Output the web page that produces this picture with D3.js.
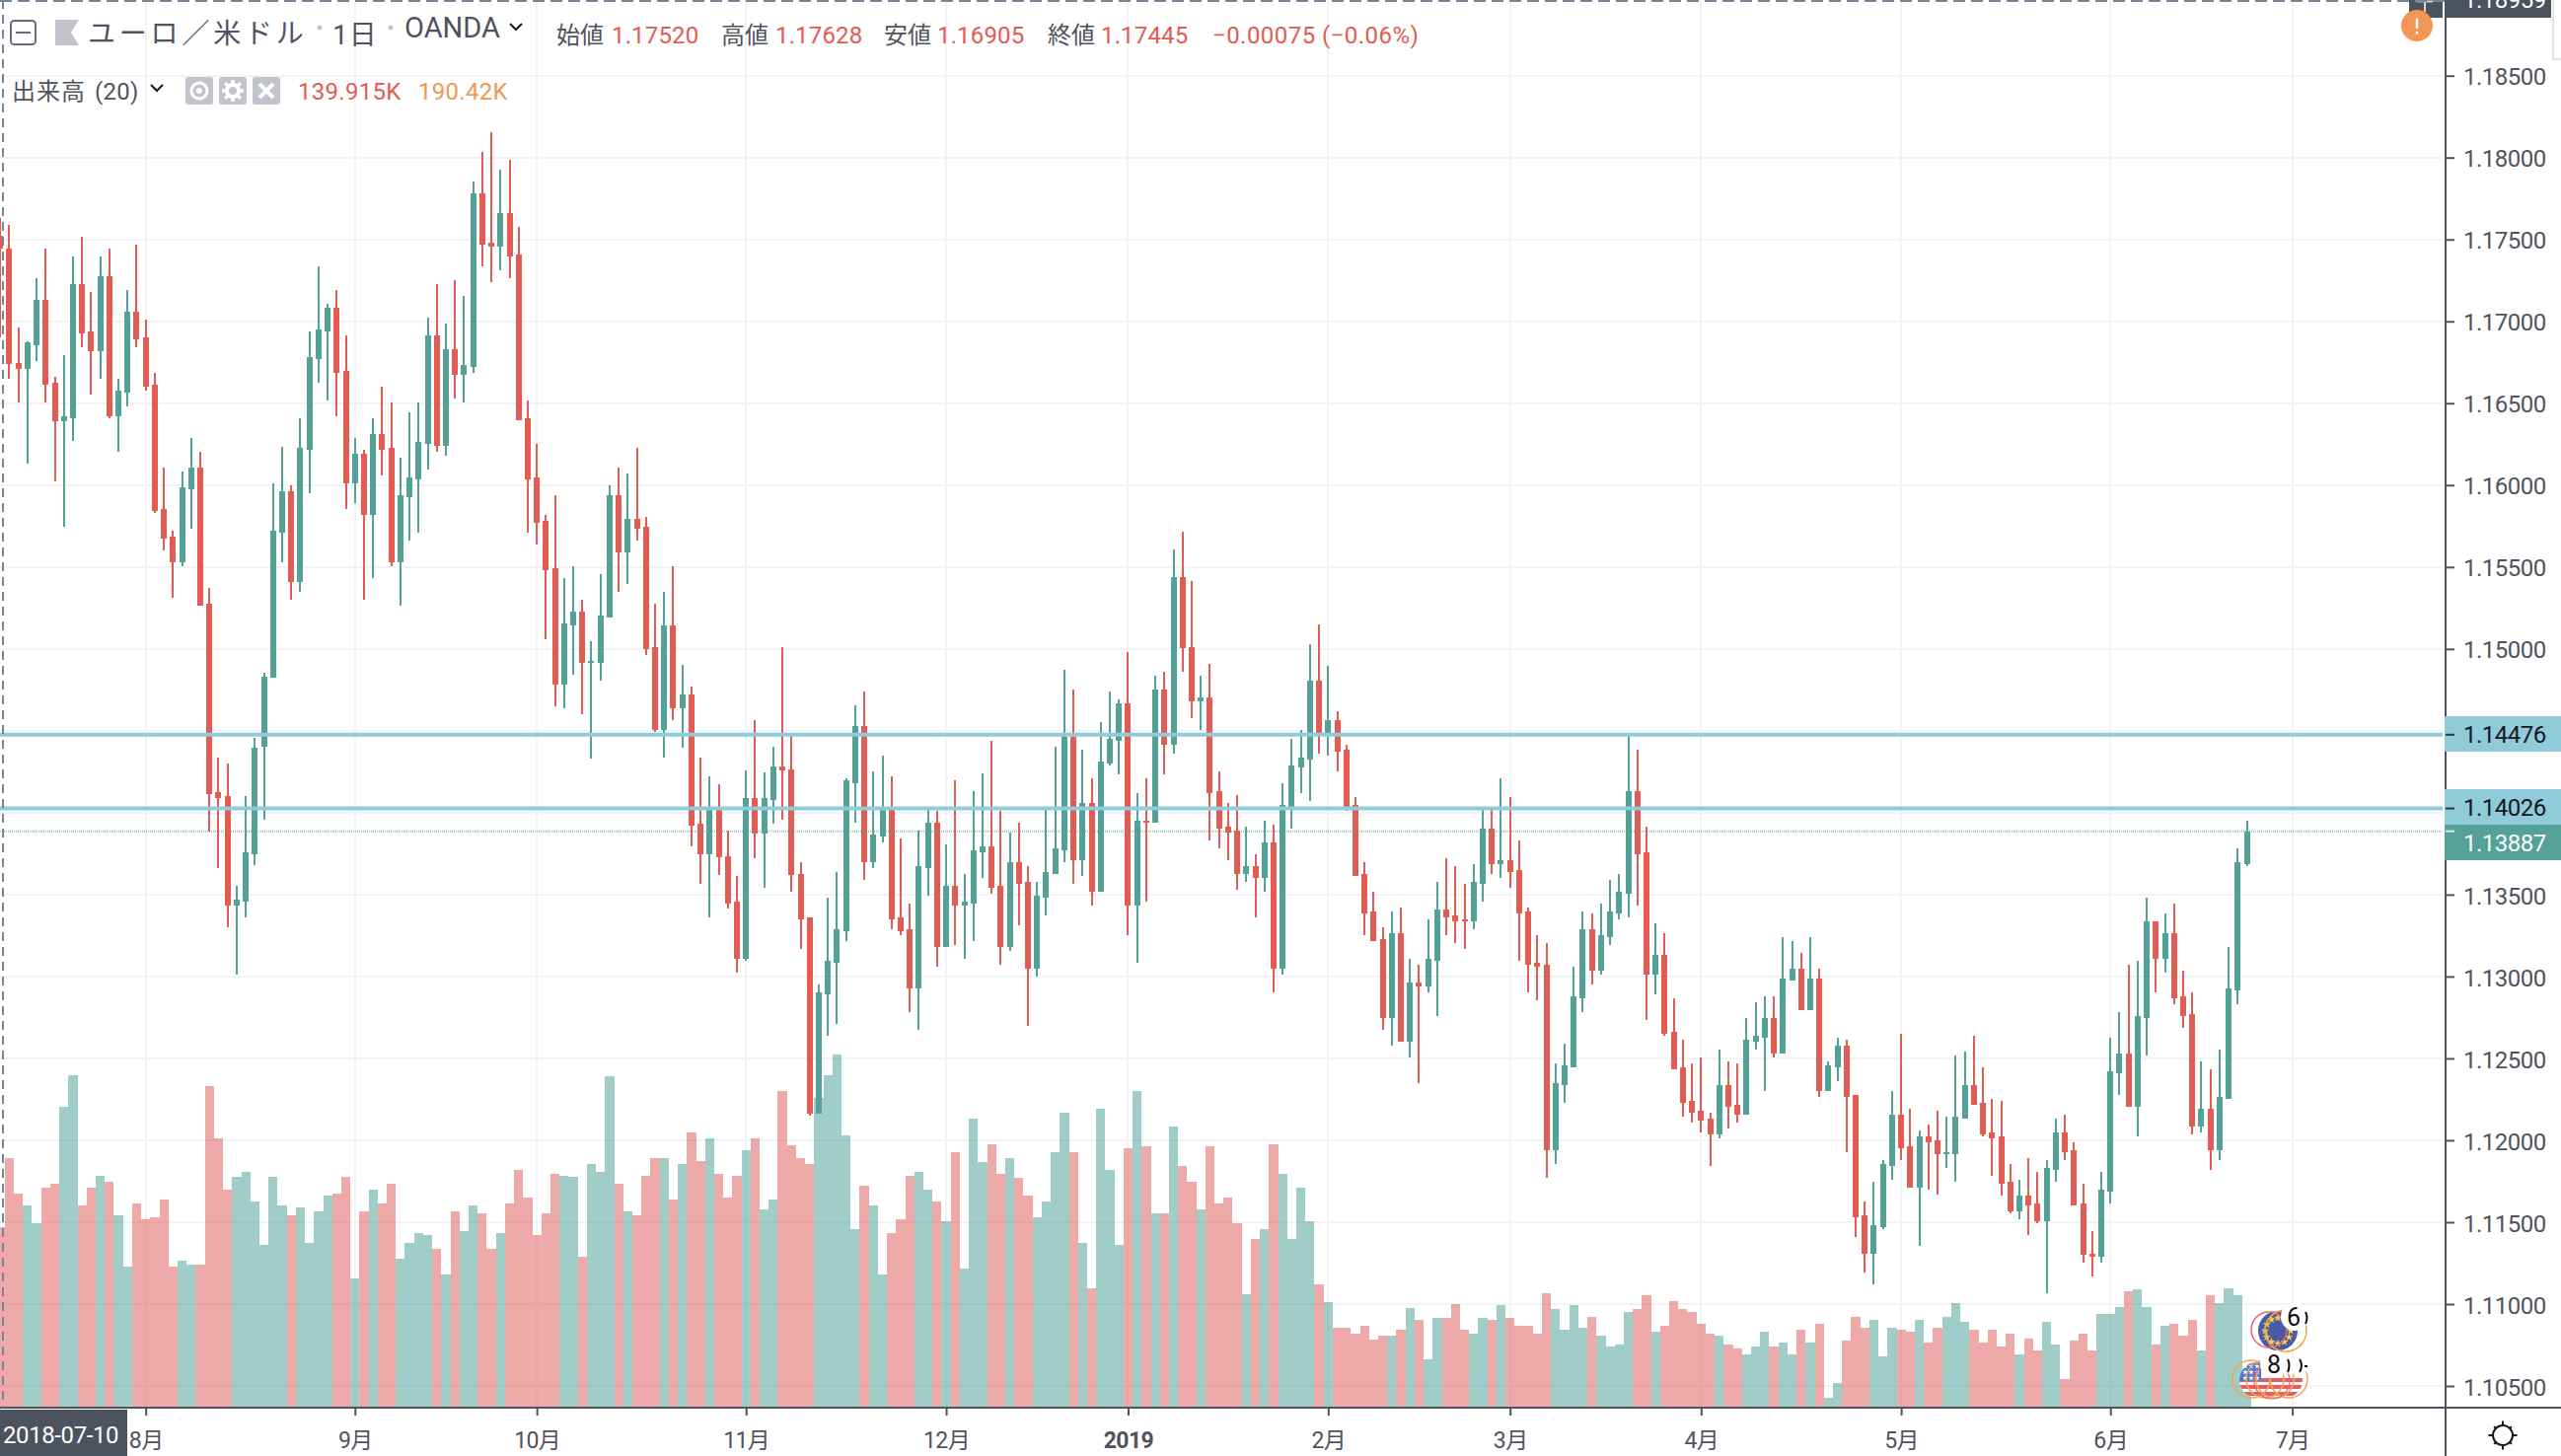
<!DOCTYPE html>
<html><head><meta charset="utf-8">
<script src="https://cdn.jsdelivr.net/npm/d3@7/dist/d3.min.js"></script>
<style>html,body{margin:0;padding:0;background:#fff;overflow:hidden}svg{display:block}
text{font-family:Roboto,"Noto Sans CJK JP",sans-serif}</style></head><body><svg id="c" width="2596" height="1476"></svg>
<script>
// All prices are in points (1 point = 0.00001 USD per EUR), one entry per trading day from 2018-07-10.
const high=[117628,117591,116963,116879,117264,117445,116663,116794,117398,117518,117179,117398,117445,116651,117191,117469,117013,116686,116108,115722,116084,116289,116204,115372,114339,114303,113555,114099,114458,114852,116009,116236,116000,116409,116940,117337,117109,117191,116917,116289,116216,116409,116601,116505,116169,116447,116505,117025,117229,116987,117252,117156,117854,118035,118155,117927,117988,117577,116517,116254,115819,115938,115433,115506,115302,115048,115457,116000,116108,116073,116228,115807,115276,115349,115506,114902,114770,114339,114220,114171,113892,113616,114256,114566,114245,114400,115013,114473,113699,113362,112951,113483,113638,114208,114654,114738,114255,114351,114220,113845,113446,113893,114026,114014,113809,114196,113628,114134,114243,114437,114014,113881,113940,113675,113580,114026,114401,114871,114750,114387,114208,114556,114738,114690,114979,114122,114208,114835,114859,115606,115716,115413,114835,114907,114255,114062,114110,113916,113747,113952,113928,114181,114449,114508,115029,115148,114895,114618,114413,114098,113699,113518,113301,113398,113422,113107,113071,113348,113580,113723,113675,113568,113687,114038,114038,114208,114098,113833,113422,113253,113202,112468,112590,113059,113396,113384,113446,113589,113625,114481,114386,113915,113324,113264,112868,112614,112468,112504,112167,112551,112480,112468,112745,112841,112880,112880,113240,113217,113145,113240,113047,112480,112626,112614,112277,111624,111746,111877,112301,112650,112190,112059,112095,112179,112143,112516,112539,112638,112444,112250,112238,111853,111758,111889,111806,111877,112131,112155,111988,111734,111445,111806,112626,112781,113070,113094,113482,113336,113384,113446,113035,112903,112480,112432,112551,113181,113783,113950];
const bodyTop=[117520,117445,116747,116870,117133,117133,116625,116420,117229,117229,116940,117276,117276,116578,117060,117060,116902,116613,115854,115687,115988,116108,116108,115276,114124,114099,113470,113759,114394,114832,115722,115965,115965,116228,116782,116952,117083,117083,116698,116193,116193,116312,116312,116228,115938,116047,116266,116917,116917,116832,116832,116736,117784,117784,117480,117661,117661,117410,116409,116047,115784,115492,115156,115229,115229,114925,115206,115938,115938,115795,115795,115746,115013,115144,115144,114721,114721,113931,114038,114038,113735,113459,114088,114088,114088,114281,114281,114267,113628,113362,112901,113094,113287,114196,114532,114532,113869,114038,114038,113363,113289,113675,113940,113940,113554,113554,113458,113771,113797,113797,113554,113699,113699,113580,113494,113640,113785,114461,114461,114062,114062,114315,114449,114666,114666,113952,113952,114750,114750,115439,115439,115014,114702,114702,114134,113916,113893,113675,113675,113821,113821,114050,114291,114339,114809,114809,114568,114568,114387,114050,113628,113398,113229,113265,113265,112964,112964,113107,113410,113410,113375,113348,113580,113905,113905,113711,113711,113651,113398,113083,113070,112349,112456,112880,113288,113288,113252,113396,113518,114132,114132,113760,113130,113130,112662,112444,112238,112179,112131,112337,112337,112214,112614,112638,112745,112745,112987,113047,113047,112987,112987,112456,112578,112578,112277,111540,111480,111853,112155,112155,111961,112023,112023,112000,111925,112143,112337,112337,112226,112047,112023,111746,111660,111660,111612,111830,112047,112047,111937,111612,111310,111698,112420,112528,112528,112757,113336,113336,113264,113264,112880,112769,112190,112190,112265,112927,113697,113887];
const bodyBottom=[117445,116739,116709,116709,116855,116613,116388,116388,116409,116928,116820,116820,116420,116420,116566,116890,116601,115842,115676,115530,115530,115976,115264,114113,114088,113434,113434,113459,113748,114403,114823,115711,115410,115410,116216,116771,116940,116686,116011,116011,115819,115819,116216,115530,115530,115927,116035,116254,116242,116242,116674,116674,116724,117469,117457,117457,117398,116397,116035,115769,115480,114782,114782,115144,114916,114916,114916,115191,115591,115591,115734,114998,114505,114505,114636,114636,113920,113748,113748,113726,113445,113108,113108,113870,113870,114077,114256,113618,113348,112164,112164,112890,113083,113277,114181,113699,113699,113857,113348,113277,112926,112926,113663,113181,113181,113434,113434,113446,113759,113542,113181,113181,113568,113048,113048,113482,113628,113771,113711,113711,113518,113518,114303,114437,113434,113434,113940,113940,114413,114413,115003,114678,114678,114122,113905,113881,113628,113628,113604,113604,113048,113048,114038,114279,114327,114473,114473,114375,114038,113616,113387,113217,112747,112747,112601,112601,112938,112938,113095,113363,113336,113336,113336,113568,113687,113687,113640,113387,113071,113060,111940,111940,112337,112444,112868,113035,113035,113240,113384,113506,113748,113011,113011,112650,112432,112226,112167,112119,112035,112035,112202,112155,112155,112602,112626,112528,112528,112975,112793,112793,112301,112301,112444,112265,111528,111310,111310,111469,111841,111949,111710,111710,111988,111913,111913,111913,112131,112214,112035,112011,111734,111564,111564,111600,111504,111504,111818,111925,111600,111299,111287,111287,111686,112408,112202,112202,112745,113106,113106,112868,112757,112083,112083,111937,111937,112253,112915,113685];
const low=[116905,116651,116505,116131,116759,116505,116023,115746,116268,116844,116555,116651,116409,116204,116482,116844,116578,115830,115603,115314,115506,115734,115264,113884,113663,113301,113014,113362,113677,113955,114823,115530,115302,115349,115950,116625,116517,116420,115854,115892,115302,115433,116061,115506,115264,115661,115711,116096,116204,116181,116528,116505,116686,117337,117241,117314,117264,116397,115711,115638,115060,114648,114636,114841,114601,114328,114806,115191,115349,115398,115661,114963,114493,114339,114566,114397,113795,113566,113362,113619,113412,113023,113097,113724,113544,113931,113955,113518,113169,112153,112164,112639,112711,113217,113940,113592,113663,113821,113289,113253,112783,112673,113494,113060,113181,113193,113107,113217,113604,113506,113071,113157,113313,112699,113000,113375,113628,113699,113568,113616,113434,113518,114291,114232,113253,113083,113458,113940,114232,114363,114859,114580,114508,113833,113785,113711,113530,113580,113363,113518,112902,113012,113905,114122,114074,114363,114351,114255,114014,113616,113253,113217,112673,112577,112601,112503,112348,112902,112759,113253,113205,113169,113289,113458,113628,113604,113542,113095,112902,112854,111770,111853,112226,112444,112781,112951,113011,113193,113348,113360,113434,112733,112891,112638,112432,112143,112107,112047,111841,112011,112071,112107,112155,112551,112301,112504,112528,112975,112793,112793,112265,112301,112360,111925,111409,111191,111120,111457,111758,111877,111710,111358,111698,111671,111830,111746,112131,112214,112023,111782,111660,111552,111516,111421,111492,111069,111746,111877,111600,111251,111167,111251,111612,112277,112202,112023,112516,112903,113023,112829,112686,112035,112047,111818,111877,112253,112829,113673];
const direction=("rrrggrrggr"+"rgrggrrrrr"+"ggrrrrgggg"+"ggrggggrrg"+"rgrrggggrg"+"rggrrgrrrr"+"rrggrgggrg"+"rrrgrgrrgr"+"rrgrggrrrr"+"gggggrggrr"+"rggrgrgggr"+"rgrrggggrg"+"rgggrgrgrg"+"rrgrrrrgrg"+"rggggrgrrr"+"rrrgrgrggr"+"rrggrgrrrr"+"rggggrgggg"+"rrgrrrrrrg"+"rrgggrggrg"+"rggrrrgggr"+"rgrrgggrrr"+"rrgrrggrrr"+"rgggrggrgr"+"rrgrgggg").split("");
// Volume, in thousands.
const volume=[139.9,193.3,166,156.6,143,170.6,173.4,233.1,257.6,156.6,170.6,179.7,175.1,148.9,109.1,158.3,146.1,147.5,161.1,109.1,113.9,110.8,110.8,248.5,208.7,168.8,178.3,182.8,159.7,126.2,178.3,156.6,148.9,155.2,127.6,152,164.3,166,178.3,100,152,168.8,158.3,173.4,115.3,127.6,135.3,133.9,123,103.1,152,136.7,156.6,150.6,123,135.3,158.3,184.2,162.9,133.9,150.6,181.1,179.7,178.3,116.7,188.7,182.8,256.2,173.4,152,148.9,179.7,193.3,193.3,161.1,188.7,213.2,190.5,208.7,181.1,162.9,179.7,199.6,208.7,153.4,161.1,245.4,202.7,193.3,188.7,239.4,257.6,273,210.4,138.4,171.8,156.5,103.1,135.1,145.8,179.4,182.4,168.7,159.5,144.3,197.7,107.6,223.7,190.1,203.8,180.9,193.1,177.9,164.1,147.3,159.5,197.7,228.2,197.7,127.5,92.4,231.3,184,126,200.8,245,202.3,150.4,150.4,217.6,187,174.8,153.4,202.3,158,162.6,142.7,87.8,130.5,138.2,203.8,180.9,130.5,170.2,144.3,95.4,81.7,61.8,61.8,57.3,63.4,52.7,55.7,55.7,60.3,77.1,67.9,37.4,69.5,69.5,80.2,60.3,57.3,69.5,67.6,79.7,69.1,63.1,63.1,57,88.8,76.7,60.1,79.7,61.6,70.6,55.5,47.6,49.1,73.7,76.7,87.3,58.6,63.1,82.7,76.7,73.7,64.6,57,55.5,49.1,46.1,41.6,47.6,58.6,47.6,50.6,41.6,60.1,50.6,64.6,7.9,18.9,52.1,70.6,61.6,67.6,40,61.6,60.1,58.6,67.6,50.6,61.6,70.6,81.2,66.1,60.1,50.6,60.1,47.6,57,41.6,53.6,44.6,66.1,49.1,21.9,52.1,57,44.6,72.2,72.2,78.2,90.3,91.8,78.2,49.1,63.1,64.6,55.5,67.6,44.6,87.3,81.2,92.2,87.3,21];
const priceTicks=[1.185,1.18,1.175,1.17,1.165,1.16,1.155,1.15,1.135,1.13,1.125,1.12,1.115,1.11,1.105];
const hiddenGridPrices=[1.145,1.14];
const monthTickIndex=[16,39,59,82,104,124,146,166,187,209,232,252];
const monthTickLabels=["8月","9月","10月","11月","12月","2019","2月","3月","4月","5月","6月","7月"];
const alertLevels=[1.14476,1.14026];
const lastPrice=1.13887, crosshairPrice="1.18959", crosshairDate="2018-07-10";
const ohlcCaption=[["始値",564],["高値",731],["安値",896],["終値",1062]];
const ohlcValues=[["1.17520",620],["1.17628",786],["1.16905",950],["1.17445",1116]];

const GREEN="#53a197",RED="#e15c53",INK="#50535e",GRID="#f1f3f6",TEAL="#90cbd9";
const paneRight=2476,axisX=2479,axisY=1427;
const svg=d3.select("#c");
const x=d3.scaleLinear().domain([0,247]).range([0.2,2277.5]);
const y=d3.scaleLinear().domain([1.105,1.185]).range([1405,76.7]);
const pt=p=>y(p/1e5);
const v=d3.scaleLinear().domain([0,300]).range([axisY,axisY-393]);
const idx=d3.range(high.length);

// grid
const grid=svg.append("g").attr("stroke",GRID).attr("stroke-width",2).attr("shape-rendering","crispEdges");
grid.selectAll("line.h").data(priceTicks.concat(hiddenGridPrices)).join("line").attr("class","h")
  .attr("x1",0).attr("x2",paneRight).attr("y1",d=>y(d)).attr("y2",d=>y(d));
grid.selectAll("line.v").data(monthTickIndex).join("line").attr("class","v")
  .attr("x1",d=>x(d)).attr("x2",d=>x(d)).attr("y1",0).attr("y2",axisY);

// volume
const half=(x(1)-x(0))/2;
svg.append("g").attr("shape-rendering","crispEdges").selectAll("rect").data(idx).join("rect")
  .attr("x",i=>Math.max(0,Math.round(x(i)-half)))
  .attr("width",i=>Math.round(x(i)+half)-Math.max(0,Math.round(x(i)-half)))
  .attr("y",i=>v(volume[i])).attr("height",i=>axisY-v(volume[i]))
  .attr("fill",i=>direction[i]==="g"?"rgba(72,160,150,.52)":"rgba(220,82,78,.49)");

// candles
const candle=svg.append("g").attr("shape-rendering","crispEdges");
candle.selectAll("line").data(idx).join("line")
  .attr("x1",i=>Math.round(x(i))).attr("x2",i=>Math.round(x(i)))
  .attr("y1",i=>pt(high[i])).attr("y2",i=>pt(low[i])).attr("stroke-width",2)
  .attr("stroke",i=>direction[i]==="g"?GREEN:RED);
candle.selectAll("rect").data(idx).join("rect")
  .attr("x",i=>Math.round(x(i))-3).attr("width",6)
  .attr("y",i=>pt(bodyTop[i])).attr("height",i=>Math.max(2,pt(bodyBottom[i])-pt(bodyTop[i])))
  .attr("fill",i=>direction[i]==="g"?GREEN:RED);

// level lines
svg.append("g").selectAll("line").data(alertLevels).join("line")
  .attr("x1",0).attr("x2",paneRight).attr("y1",d=>y(d)).attr("y2",d=>y(d))
  .attr("stroke",TEAL).attr("stroke-width",4);
svg.append("line").attr("x1",0).attr("x2",paneRight).attr("y1",y(lastPrice)).attr("y2",y(lastPrice))
  .attr("stroke",GREEN).attr("stroke-width",2).attr("stroke-dasharray","1 1").attr("opacity",.6);

// price axis
const yAxis=d3.axisRight(y).tickValues(priceTicks).tickFormat(d3.format(".5f")).tickSize(9).tickPadding(9);
const ya=svg.append("g").attr("transform",`translate(${axisX},0)`).call(yAxis);
ya.select(".domain").remove();
ya.selectAll("line").attr("stroke",INK).attr("stroke-width",2);
ya.selectAll("text").attr("fill",INK).attr("dy","0.38em").style("font-size","24px").style("letter-spacing","-0.5px").style("font-family","Roboto");

// time axis
const xAxis=d3.axisBottom(x).tickValues(monthTickIndex).tickFormat((d,i)=>monthTickLabels[i]).tickSize(8).tickPadding(17);
const xa=svg.append("g").attr("transform",`translate(0,${axisY})`).call(xAxis);
xa.select(".domain").remove();
xa.selectAll("line").attr("stroke",INK).attr("stroke-width",2);
xa.selectAll("text").attr("fill",INK).style("font-size","23px").style("letter-spacing","-0.6px")
  .style("font-weight",(d,i)=>monthTickLabels[i]==="2019"?"700":"400");

// frame lines
svg.append("line").attr("x1",0).attr("x2",2596).attr("y1",axisY).attr("y2",axisY).attr("stroke",INK).attr("stroke-width",2);
svg.append("line").attr("x1",axisX).attr("x2",axisX).attr("y1",0).attr("y2",1476).attr("stroke",INK).attr("stroke-width",2);

// price labels
function priceTag(val,top,fill,txt){
  const g=svg.append("g");
  g.append("rect").attr("x",axisX-1).attr("y",top).attr("width",2596-axisX+1).attr("height",36).attr("fill",fill);
  g.append("line").attr("x1",axisX).attr("x2",axisX+9).attr("y1",y(val)).attr("y2",y(val)).attr("stroke",txt).attr("stroke-width",2).attr("opacity",.8);
  g.append("text").attr("x",2497).attr("y",top+26.5).attr("fill",txt).style("font-size","24px").style("letter-spacing","-0.5px").text(d3.format(".5f")(val));
}
priceTag(alertLevels[0],726,TEAL,"#131722");
priceTag(alertLevels[1],800,TEAL,"#131722");
priceTag(lastPrice,836,GREEN,"#ffffff");

// crosshair and its tags
const CROSS="#758696";
svg.append("line").attr("x1",3).attr("x2",3).attr("y1",0).attr("y2",axisY).attr("stroke",CROSS).attr("stroke-width",2).attr("stroke-dasharray","9 6");
svg.append("rect").attr("x",2442).attr("y",0).attr("width",34).attr("height",18).attr("fill","#4c525e");
svg.append("path").attr("d","M2458 2V12M2450 1.5H2466").attr("stroke","#cfd2d8").attr("stroke-width",2).attr("fill","none");
svg.append("line").attr("x1",0).attr("x2",2478).attr("y1",1).attr("y2",1).attr("stroke",CROSS).attr("stroke-width",2).attr("stroke-dasharray","12 6");
svg.append("rect").attr("x",axisX-1).attr("y",0).attr("width",108).attr("height",18).attr("fill","#4c525e");
svg.append("text").attr("x",2497).attr("y",8).attr("fill","#fff").style("font-size","24px").style("letter-spacing","-0.5px").text(crosshairPrice);
svg.append("rect").attr("x",0).attr("y",axisY+2).attr("width",129).attr("height",1476-axisY-2).attr("fill","#4c525e");
svg.append("text").attr("x",3).attr("y",1462.5).attr("fill","#fff").style("font-size","24px").style("letter-spacing","-0.4px").text(crosshairDate);

// alert badge and corner panel
svg.append("circle").attr("cx",2450).attr("cy",26).attr("r",16).attr("fill","#f29655");
svg.append("path").attr("d","M2450 18.5V29M2450 32V34.5").attr("stroke","#fff").attr("stroke-width",2.4).attr("fill","none");
svg.append("path").attr("d","M2588 0V60H2596").attr("stroke","#e4e6ec").attr("stroke-width",2).attr("fill","#fff");

// gear at bottom right
const sun=svg.append("g").attr("transform","translate(2537,1455)").attr("stroke","#131722").attr("stroke-width",2).attr("fill","none");
sun.append("circle").attr("r",10);
d3.range(8).forEach(k=>{const a=k*Math.PI/4,r0=10,r1=k%2?12.5:14.5;
  sun.append("line").attr("x1",r0*Math.cos(a)).attr("y1",r0*Math.sin(a)).attr("x2",r1*Math.cos(a)).attr("y2",r1*Math.sin(a));});

// header, row 1
const hd=svg.append("g");
function label(t,xx,yy,size,fill,extra){const e=hd.append("text").attr("x",xx).attr("y",yy).attr("fill",fill).style("font-size",size+"px").text(t);if(extra)e.style("letter-spacing",extra);return e;}
hd.append("rect").attr("x",11).attr("y",21).attr("width",25).attr("height",24).attr("rx",3.5).attr("fill","none").attr("stroke","#6a6d78").attr("stroke-width",2);
hd.append("line").attr("x1",16).attr("x2",31).attr("y1",33).attr("y2",33).attr("stroke","#6a6d78").attr("stroke-width",2);
hd.append("path").attr("d","M56 20H80L72 33L80 46H56Z").attr("fill","#c1c4cd");
label("ユーロ／米ドル",89,44,28,INK,"3.8px");
hd.append("circle").attr("cx",324).attr("cy",28).attr("r",2.5).attr("fill","#c1c4cd");
label("1日",337,45,28,INK,"1px");
hd.append("circle").attr("cx",396).attr("cy",28).attr("r",2.5).attr("fill","#c1c4cd");
label("OANDA",410,38,29,INK);
hd.append("path").attr("d","M517 24L523 30L529 24").attr("fill","none").attr("stroke","#131722").attr("stroke-width",2);
ohlcCaption.forEach(d=>label(d[0],d[1],44,24,INK));
ohlcValues.forEach(d=>label(d[0],d[1],44,24,RED,"0.15px"));
label("−0.00075 (−0.06%)",1229,44,24,RED,"0.45px");

// header, row 2
label("出来高",12,101,24,INK,"1px");
label("(20)",96,101,24,INK,"0.3px");
hd.append("path").attr("d","M153 86L159 92L165 86").attr("fill","none").attr("stroke","#131722").attr("stroke-width",2);
[188,222,256].forEach(bx=>hd.append("rect").attr("x",bx).attr("y",78).attr("width",28).attr("height",28).attr("rx",3).attr("fill","#c1c4cd"));
hd.append("circle").attr("cx",202).attr("cy",92).attr("r",8).attr("fill","none").attr("stroke","#fff").attr("stroke-width",3);
hd.append("circle").attr("cx",202).attr("cy",92).attr("r",3).attr("fill","#fff");
hd.append("circle").attr("cx",236).attr("cy",92).attr("r",6).attr("fill","none").attr("stroke","#fff").attr("stroke-width",4);
d3.range(8).forEach(k=>{const a=k*Math.PI/4;hd.append("line").attr("x1",236+7*Math.cos(a)).attr("y1",92+7*Math.sin(a)).attr("x2",236+11*Math.cos(a)).attr("y2",92+11*Math.sin(a)).attr("stroke","#fff").attr("stroke-width",3.5);});
hd.append("path").attr("d","M263 85L277 99M277 85L263 99").attr("stroke","#fff").attr("stroke-width",4);
label("139.915K",302,101,24,RED,"0.3px");
label("190.42K",424,101,24,"#f29655","0.3px");

// event markers
const defs=svg.append("defs");
defs.append("clipPath").attr("id","eu").append("circle").attr("cx",2309).attr("cy",1349).attr("r",20);
const us=defs.append("clipPath").attr("id","us");
[2288,2302,2316].forEach(cx=>us.append("circle").attr("cx",cx).attr("cy",1399).attr("r",18));
const m=svg.append("g");
m.append("circle").attr("cx",2309).attr("cy",1349).attr("r",20).attr("fill","#4a5ba6");
d3.range(12).forEach(k=>{const a=k*Math.PI/6;m.append("path").attr("d",d3.symbol(d3.symbolStar,22))
  .attr("transform",`translate(${2309+13*Math.cos(a)},${1349+13*Math.sin(a)})`).attr("fill","#f4d442");});
m.append("circle").attr("cx",2300).attr("cy",1348).attr("r",18).attr("fill","none").attr("stroke","#ef6173").attr("stroke-width",1.5);
m.append("circle").attr("cx",2317).attr("cy",1349).attr("r",21).attr("fill","none").attr("stroke","#f2a64f").attr("stroke-width",1.5);
const f=m.append("g").attr("clip-path","url(#us)");
f.append("rect").attr("x",2270).attr("y",1380).attr("width",64).attr("height",38).attr("fill","#fff");
[1397,1404,1411].forEach(sy=>f.append("rect").attr("x",2270).attr("y",sy).attr("width",64).attr("height",4).attr("fill","#e0606a"));
f.append("rect").attr("x",2270).attr("y",1380).attr("width",22).attr("height",20).attr("fill","#4a78d0");
d3.cross([2276,2282,2288],[1385,1391,1397]).forEach(s=>f.append("path").attr("d",d3.symbol(d3.symbolStar,10)).attr("transform",`translate(${s[0]},${s[1]})`).attr("fill","#fff"));
[[2282,19],[2296,19],[2306,19],[2320,19]].forEach(c=>m.append("circle").attr("cx",c[0]).attr("cy",1398).attr("r",c[1]).attr("fill","none").attr("stroke","#f2a64f").attr("stroke-width",1.5));
m.append("circle").attr("cx",2303).attr("cy",1400).attr("r",18).attr("fill","none").attr("stroke","#ef6173").attr("stroke-width",1.2);
[[2326,1335,14],[2342,1337,5],[2305,1383,14],[2322,1385,8],[2332,1385,8]].forEach(b=>m.append("circle").attr("cx",b[0]).attr("cy",b[1]).attr("r",b[2]).attr("fill","#fff"));
[["6",2325,1344],["8",2305,1392]].forEach(t=>m.append("text").attr("x",t[1]).attr("y",t[2]).attr("text-anchor","middle").attr("fill","#111").style("font-size","25px").text(t[0]));
// clipped fragments of the hidden badge digits
m.append("path").attr("d","M2337 1330Q2340 1336 2337 1342M2319 1378Q2322 1384 2319 1391M2331 1378Q2335 1384 2331 1391M2336 1385H2339").attr("fill","none").attr("stroke","#111").attr("stroke-width",2);
</script></body></html>
